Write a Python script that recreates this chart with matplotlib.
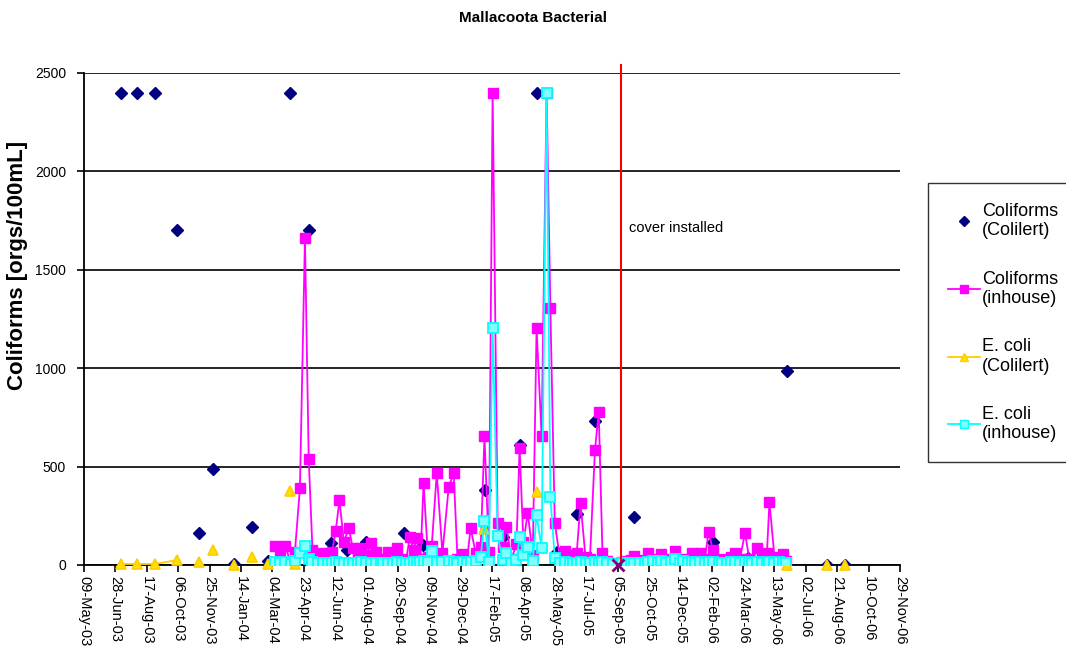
import matplotlib
matplotlib.use('Agg')
import matplotlib.pyplot as plt
from matplotlib.lines import Line2D
import pandas as pd

plt.rcParams['font.family'] = ['Liberation Sans', 'DejaVu Sans']

# Coliforms (Colilert) - navy diamonds, no line
colilert_dates = ['2003-07-07', '2003-08-01', '2003-08-30', '2003-10-04', '2003-11-08', '2003-11-30',
                  '2004-01-03', '2004-02-01', '2004-02-26', '2004-04-01', '2004-05-01', '2004-06-05',
                  '2004-07-01', '2004-07-31', '2004-09-30', '2004-10-30', '2005-02-06', '2005-03-06',
                  '2005-04-03', '2005-04-30', '2005-05-31', '2005-07-02', '2005-07-31', '2005-10-01',
                  '2006-02-04', '2006-04-01', '2006-06-02', '2006-08-05', '2006-09-02']
colilert_coliforms = [2400, 2400, 2400, 1700, 165, 490,
                      5, 195, 20, 2400, 1700, 110,
                      75, 115, 165, 100, 380, 140,
                      610, 2400, 65, 260, 730, 245,
                      115, 35, 985, 0, 0]

# E. coli (Colilert) - yellow triangles
ecoli_col_dates = ['2003-07-07', '2003-08-01', '2003-08-30', '2003-10-04', '2003-11-08', '2003-11-30',
                   '2004-01-03', '2004-02-01', '2004-02-26', '2004-04-01', '2004-04-09', '2005-02-05',
                   '2005-04-02', '2005-04-30', '2006-06-02', '2006-08-05', '2006-09-02']
ecoli_colilert = [5, 5, 5, 25, 15, 76,
                  0, 40, 3, 375, 3, 183,
                  142, 370, 0, 0, 0]

# in-house tests (coliforms + E. coli on the same samples)
inhouse_dates = [
    '2004-03-08', '2004-03-16', '2004-03-25', '2004-04-02', '2004-04-09', '2004-04-17', '2004-04-25',
    '2004-05-01', '2004-05-07', '2004-05-15', '2004-05-23', '2004-05-31',
    '2004-06-07', '2004-06-13', '2004-06-19', '2004-06-26', '2004-07-04', '2004-07-10', '2004-07-18',
    '2004-07-24', '2004-08-01', '2004-08-09', '2004-08-16', '2004-08-24', '2004-08-28',
    '2004-09-04', '2004-09-12', '2004-09-18', '2004-09-26', '2004-10-03', '2004-10-09', '2004-10-15',
    '2004-10-20', '2004-10-26', '2004-10-31', '2004-11-07', '2004-11-13', '2004-11-21', '2004-11-30',
    '2004-12-10', '2004-12-18', '2004-12-24', '2005-01-02', '2005-01-08', '2005-01-14', '2005-01-22',
    '2005-01-30', '2005-02-05', '2005-02-12', '2005-02-18', '2005-02-26',
    '2005-03-06', '2005-03-12', '2005-03-20', '2005-03-28', '2005-04-02', '2005-04-08', '2005-04-15',
    '2005-04-23', '2005-04-29', '2005-05-07', '2005-05-15', '2005-05-21', '2005-05-28',
    '2005-06-05', '2005-06-13', '2005-06-21', '2005-06-26', '2005-07-02', '2005-07-08', '2005-07-16',
    '2005-07-23', '2005-07-31', '2005-08-06', '2005-08-12', '2005-08-20', '2005-08-28',
    '2005-09-12', '2005-09-20', '2005-09-26', '2005-10-02', '2005-10-10', '2005-10-18', '2005-10-24',
    '2005-10-31', '2005-11-08', '2005-11-14', '2005-11-22', '2005-11-29',
    '2005-12-05', '2005-12-13', '2005-12-19', '2005-12-26', '2006-01-01', '2006-01-07', '2006-01-14',
    '2006-01-22', '2006-01-28', '2006-02-04', '2006-02-13', '2006-02-19', '2006-02-26',
    '2006-03-04', '2006-03-11', '2006-03-19', '2006-03-27', '2006-04-03', '2006-04-08', '2006-04-15',
    '2006-04-23', '2006-05-01', '2006-05-05', '2006-05-13', '2006-05-20', '2006-05-26', '2006-06-01']
inhouse_coliforms = [
    97, 60, 97, 10, 66, 391, 1660, 540, 76, 30, 60, 20,
    66, 173, 330, 117, 188, 86, 40, 86, 51, 112, 66, 30, 20,
    66, 30, 86, 30, 20, 142, 76, 137, 30, 417, 40, 97, 467, 60,
    396, 467, 30, 56, 20, 188, 60, 92, 655, 66, 2400, 213,
    90, 193, 30, 107, 595, 117, 264, 50, 1205, 655, 2400, 1305, 213,
    40, 71, 30, 50, 61, 315, 40, 30, 584, 777, 61, 20, 10,
    15, 20, 25, 46, 20, 25, 61, 30, 20, 56, 30, 20,
    71, 25, 30, 20, 61, 30, 61, 30, 168, 76, 25, 30, 20,
    40, 61, 30, 163, 30, 20, 86, 30, 61, 320, 40, 30, 56, 20]
inhouse_ecoli = [
    15, 10, 15, 5, 20, 60, 95, 30, 15, 10, 10, 10,
    10, 15, 10, 10, 10, 10, 10, 15, 10, 10, 10, 10, 10,
    10, 10, 15, 10, 10, 10, 15, 10, 15, 20, 15, 70, 15, 15,
    20, 15, 10, 15, 10, 15, 20, 40, 224, 15, 1205, 147,
    25, 60, 10, 25, 142, 50, 92, 20, 254, 86, 2400, 346, 36,
    10, 15, 10, 10, 10, 15, 10, 10, 15, 10, 15, 10, 5,
    10, 10, 10, 10, 10, 10, 15, 20, 10, 20, 10, 15,
    30, 10, 20, 10, 15, 10, 15, 10, 15, 15, 10, 10, 10,
    15, 15, 10, 15, 10, 10, 15, 10, 10, 15, 10, 15, 10, 10]

cover_date = '2005-09-10'
marker_date = '2005-09-05'

col_x = pd.to_datetime(colilert_dates)
ec_x = pd.to_datetime(ecoli_col_dates)
in_x = pd.to_datetime(inhouse_dates)

navy = '#000080'
magenta = '#FF00FF'
gold = '#FFCC00'
cyan = '#00FFFF'

fig = plt.figure(figsize=(10.66, 6.53), dpi=100)
ax = fig.add_axes([84 / 1066, 88 / 653, 816 / 1066, 492 / 653])

ax.plot(col_x, colilert_coliforms, linestyle='none', marker='D', ms=6, color=navy, zorder=3)
ax.plot(in_x, inhouse_coliforms, color=magenta, lw=1.3, marker='s', ms=7, mfc=magenta, mec=magenta, zorder=4)
ax.plot(ec_x[:4], ecoli_colilert[:4], color=gold, lw=1.3, zorder=5)
ax.plot(ec_x, ecoli_colilert, linestyle='none', marker='^', ms=7, mfc='#FFE000', mec=gold, mew=1.2, zorder=5,
        clip_on=False)
ax.plot(in_x, inhouse_ecoli, color=cyan, lw=1.3, marker='s', ms=6.5, mfc='#80FFFF', mec=cyan, mew=1.3, zorder=6)

# cover installed
cx = pd.Timestamp(cover_date)
ax.plot([cx, cx], [0, 2540], color='#FF0000', lw=1.5, zorder=7, clip_on=False)
ax.plot([pd.Timestamp(marker_date)], [0], marker='x', color='#800080', ms=9, mew=2, zorder=8, clip_on=False)
ax.text(cx + pd.Timedelta(days=13), 1712, 'cover installed', fontsize=10.5, va='center', ha='left')

ax.set_ylim(0, 2500)
ax.set_yticks(range(0, 2501, 500))
ax.yaxis.grid(True, color='black', lw=1.2)
ax.set_axisbelow(True)

ticks = pd.date_range('2003-05-09', '2006-11-29', freq='50D')
ax.set_xlim(ticks[0], ticks[-1])
ax.set_xticks(ticks)
ax.set_xticklabels([t.strftime('%d-%b-%y') for t in ticks], rotation=-90, fontsize=10.5)
ax.tick_params(axis='y', labelsize=10, direction='out', length=5, width=1.2, pad=8)
ax.tick_params(axis='x', direction='out', length=5, width=1.2, pad=3)

for s in ['top', 'right']:
    ax.spines[s].set_visible(False)
for s in ['left', 'bottom']:
    ax.spines[s].set_linewidth(1.3)

fig.text(0.5, 1 - 18 / 653, 'Mallacoota Bacterial', ha='center', va='center', fontsize=11, fontweight='bold')
fig.text(18 / 1066, 1 - 265 / 653, 'Coliforms [orgs/100mL]', ha='center', va='center', rotation=90,
         fontsize=16, fontweight='bold')

handles = [
    Line2D([], [], linestyle='none', marker='D', ms=5, color=navy),
    Line2D([], [], color=magenta, lw=1.3, marker='s', ms=6, mfc=magenta, mec=magenta),
    Line2D([], [], color=gold, lw=1.3, marker='^', ms=6, mfc='#FFE000', mec=gold),
    Line2D([], [], color=cyan, lw=1.3, marker='s', ms=6, mfc='#80FFFF', mec=cyan),
]
labels = ['Coliforms\n(Colilert)', 'Coliforms\n(inhouse)', 'E. coli\n(Colilert)', 'E. coli\n(inhouse)']
leg = fig.legend(handles, labels, loc='upper left', bbox_to_anchor=(928 / 1066, 1 - 183 / 653),
                 frameon=True, fancybox=False, edgecolor='black', fontsize=13, labelspacing=1.72,
                 handlelength=1.8, handletextpad=0.1, borderpad=1.1, borderaxespad=0)
leg.get_frame().set_linewidth(1.0)

fig.savefig('out.png', dpi=100)
